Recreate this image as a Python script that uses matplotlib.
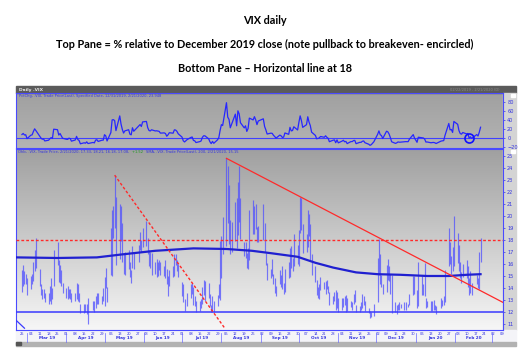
import matplotlib.pyplot as plt
import matplotlib.dates as mdates
from matplotlib.patches import Rectangle
from matplotlib.colors import LinearSegmentedColormap
from matplotlib.transforms import blended_transform_factory
import numpy as np
import pandas as pd

# ---- data (VIX daily) ----
holidays = ['2019-04-19', '2019-05-27', '2019-07-04', '2019-09-02', '2019-11-28',
            '2019-12-25', '2020-01-01', '2020-01-20', '2020-02-17']

close_feb19 = [14.85, 15.17, 14.70, 14.78]
close_mar19 = [13.57, 14.63, 14.74, 15.74, 16.59, 16.05, 14.33, 13.77, 13.41, 13.50, 12.88,
               13.10, 13.56, 13.91, 13.63, 16.48, 16.33, 14.68, 15.15, 14.43, 13.71]
close_apr19 = [13.40, 13.36, 13.74, 13.58, 12.82, 13.18, 14.28, 13.30, 13.02, 12.01, 12.32,
               12.18, 12.60, 12.09, 12.42, 12.28, 13.14, 13.25, 12.73, 13.11, 13.12]
close_may19 = [14.80, 14.42, 12.87, 15.44, 19.32, 19.40, 19.10, 16.04, 20.55, 18.06, 16.44,
               15.29, 15.96, 16.31, 14.95, 14.75, 16.92, 15.85, 17.50, 17.90, 17.30, 18.71]
close_jun19 = [18.86, 16.97, 16.09, 15.93, 16.30, 15.94, 15.99, 15.91, 15.82, 15.28, 15.35,
               15.15, 14.33, 14.75, 15.40, 15.26, 16.28, 16.21, 15.82, 15.08]
close_jul19 = [14.06, 12.93, 12.57, 13.28, 13.96, 14.09, 13.03, 12.93, 12.39, 12.68, 12.86,
               13.97, 14.45, 14.45, 13.53, 12.61, 12.07, 12.74, 12.16, 13.24, 13.94, 16.12]
close_aug19 = [17.87, 17.61, 24.59, 20.17, 19.49, 16.91, 17.97, 21.09, 17.52, 22.10, 21.18,
               18.47, 16.88, 17.50, 15.80, 16.68, 19.87, 19.32, 20.31, 19.35, 17.88, 18.98]
close_sep19 = [19.66, 17.33, 16.27, 15.00, 15.27, 15.20, 14.61, 14.22, 13.74, 14.67, 14.44,
               13.95, 14.05, 15.32, 14.91, 17.05, 15.96, 16.07, 17.22, 16.24]
close_oct19 = [18.56, 20.56, 19.12, 17.04, 17.86, 20.28, 18.64, 17.57, 15.58, 14.57, 13.54,
               13.68, 13.79, 14.25, 14.00, 14.46, 14.01, 13.71, 12.65, 13.11, 13.20, 12.33, 13.22]
close_nov19 = [12.30, 12.83, 13.10, 12.62, 12.73, 12.07, 12.69, 12.68, 13.00, 13.05, 12.05,
               12.46, 12.46, 12.78, 12.88, 12.34, 11.87, 11.54, 11.75, 12.62]
close_dec19 = [14.91, 15.96, 14.80, 14.52, 13.62, 15.86, 15.68, 14.99, 13.94, 12.63, 12.14,
               12.29, 12.58, 12.50, 12.51, 12.61, 12.67, 12.65, 13.43, 14.82, 13.78]
close_jan20 = [12.47, 14.02, 13.85, 13.79, 13.45, 12.54, 12.56, 12.32, 12.39, 12.42, 12.32,
               12.10, 12.85, 12.91, 12.98, 14.56, 18.23, 16.28, 16.39, 15.49, 18.84]
close_feb20 = [17.97, 16.05, 15.15, 14.96, 15.47, 15.04, 15.18, 13.74, 14.15, 13.68, 14.83,
               14.38, 15.56, 17.08]

high_feb19 = [15.5, 15.9, 15.4, 15.2]
high_mar19 = [14.8, 15.0, 15.2, 16.2, 17.2, 18.2, 15.6, 14.3, 13.9, 13.9, 13.6, 13.6, 14.2,
              14.8, 14.0, 17.2, 17.8, 16.3, 15.9, 15.5, 14.4]
high_apr19 = [14.0, 14.2, 13.9, 13.9, 13.6, 13.6, 14.4, 14.3, 13.6, 12.7, 12.7, 12.7, 12.7,
              13.2, 12.9, 12.9, 13.3, 13.6, 13.6, 13.3, 14.0]
high_may19 = [14.9, 15.7, 14.1, 19.0, 20.5, 20.8, 23.4, 21.6, 21.0, 20.8, 19.4, 16.8, 17.0,
              17.2, 16.2, 15.5, 17.5, 16.9, 17.6, 18.7, 18.0, 19.0]
high_jun19 = [19.6, 18.2, 17.2, 17.0, 16.9, 16.2, 16.4, 16.2, 16.3, 16.2, 15.8, 16.3, 15.6,
              15.0, 15.5, 15.8, 16.8, 16.8, 16.3, 16.0]
high_jul19 = [14.5, 14.3, 13.1, 13.6, 14.3, 14.4, 14.1, 13.3, 12.9, 12.9, 13.1, 14.1, 14.7,
              14.6, 14.4, 13.5, 12.6, 13.3, 12.9, 13.4, 14.3, 17.9]
high_aug19 = [18.3, 19.9, 24.8, 24.2, 22.6, 19.7, 19.5, 21.2, 21.5, 22.8, 24.2, 21.5, 17.8,
              17.8, 16.9, 17.3, 20.5, 21.3, 20.8, 21.0, 19.1, 19.2]
high_sep19 = [21.0, 19.4, 16.9, 16.1, 15.6, 16.4, 15.2, 14.8, 14.2, 15.5, 15.1, 15.8, 14.4,
              15.6, 16.2, 17.3, 17.5, 16.5, 18.5, 17.6]
high_oct19 = [18.8, 21.6, 21.5, 19.3, 18.5, 20.5, 20.2, 19.3, 16.8, 15.8, 14.7, 14.1, 14.3,
              14.9, 14.5, 14.6, 14.7, 14.2, 13.7, 13.3, 13.7, 13.8, 13.7]
high_nov19 = [13.2, 13.2, 13.2, 13.3, 13.4, 13.2, 12.9, 12.8, 13.5, 13.8, 12.6, 12.5, 12.8,
              13.5, 13.3, 12.9, 12.3, 12.1, 12.0, 12.7]
high_dec19 = [16.5, 18.1, 16.8, 15.1, 14.3, 15.9, 16.4, 15.8, 15.2, 15.1, 12.8, 12.6, 12.7,
              12.8, 12.7, 12.8, 12.8, 12.7, 13.5, 15.0, 15.0]
high_jan20 = [13.8, 16.2, 15.0, 14.3, 16.1, 13.2, 12.9, 12.9, 12.9, 13.0, 12.6, 12.5, 13.2,
              13.0, 13.3, 15.5, 19.0, 17.8, 16.7, 17.4, 19.99]
high_feb20 = [18.6, 17.6, 16.2, 15.3, 16.0, 16.3, 15.8, 14.8, 15.4, 14.4, 15.1, 14.8, 17.0, 18.2]

low_feb19 = [13.7, 14.2, 14.3, 14.3]
low_mar19 = [13.4, 13.9, 14.3, 14.6, 15.4, 15.7, 14.2, 13.4, 13.1, 13.2, 12.8, 12.7, 12.9,
             12.7, 13.1, 14.2, 15.9, 14.5, 14.4, 14.2, 13.6]
low_apr19 = [13.2, 13.1, 13.2, 13.1, 12.8, 12.9, 13.1, 12.9, 12.8, 11.9, 11.9, 12.0, 11.8,
             11.0, 12.2, 12.0, 12.3, 12.7, 12.7, 12.7, 12.9]
low_may19 = [12.5, 14.0, 12.8, 15.1, 15.0, 18.2, 19.0, 15.9, 16.4, 17.9, 16.2, 15.2, 15.1,
             15.6, 14.9, 14.4, 15.7, 15.6, 16.2, 17.2, 17.0, 17.4]
low_jun19 = [17.5, 16.8, 15.8, 15.7, 15.1, 15.2, 14.9, 15.0, 15.5, 15.1, 15.0, 14.8, 14.3,
             13.3, 14.2, 14.9, 15.0, 15.9, 15.4, 14.9]
low_jul19 = [13.3, 12.8, 12.1, 12.5, 13.2, 13.5, 12.6, 12.5, 12.0, 12.1, 12.3, 12.7, 13.4,
             12.9, 13.2, 12.5, 12.0, 12.0, 12.0, 12.5, 13.2, 13.0]
low_aug19 = [14.8, 16.8, 17.5, 19.4, 17.7, 16.8, 17.0, 17.9, 17.3, 18.4, 19.5, 18.1, 16.7,
             16.5, 15.7, 15.6, 16.3, 18.5, 18.5, 18.9, 17.8, 17.8]
low_sep19 = [18.0, 17.0, 15.9, 14.7, 14.8, 15.0, 14.3, 13.6, 13.3, 14.3, 14.1, 13.9, 13.5,
             13.7, 14.8, 14.9, 15.7, 15.4, 15.8, 16.0]
low_oct19 = [15.8, 18.6, 18.8, 16.9, 17.0, 17.4, 18.3, 16.3, 15.1, 14.5, 13.4, 13.2, 13.1,
             13.8, 13.9, 13.5, 13.9, 13.6, 12.6, 12.7, 12.9, 12.2, 12.3]
low_nov19 = [12.0, 12.2, 12.4, 12.6, 12.0, 12.1, 12.4, 12.2, 12.7, 12.8, 12.0, 12.0, 12.2,
             12.3, 12.6, 12.1, 11.9, 11.5, 11.6, 11.7]
low_dec19 = [12.8, 15.1, 14.3, 14.1, 13.5, 13.7, 14.7, 14.6, 13.5, 11.9, 12.0, 11.8, 12.2,
             12.2, 12.3, 12.2, 12.2, 12.4, 12.6, 13.4, 13.5]
low_jan20 = [12.3, 12.5, 13.4, 13.4, 13.3, 12.3, 12.4, 12.1, 12.1, 12.2, 12.2, 11.8, 12.3,
             12.5, 12.6, 12.8, 15.8, 16.0, 15.2, 15.4, 15.8]
low_feb20 = [16.1, 15.4, 14.8, 14.4, 14.9, 14.8, 14.1, 13.4, 13.6, 13.4, 14.3, 14.0, 13.9, 16.2]

ref_close = 13.78  # close of 12/31/2019

# 200-day SMA, read at points along the line
sma_dates = ['2019-02-20', '2019-03-25', '2019-04-25', '2019-05-15', '2019-06-10', '2019-07-10',
             '2019-08-05', '2019-08-25', '2019-09-09', '2019-09-30', '2019-10-14', '2019-10-28',
             '2019-11-15', '2019-12-02', '2019-12-20', '2020-01-10', '2020-01-27', '2020-02-10',
             '2020-02-21']
sma_values = [16.55, 16.5, 16.55, 16.8, 17.1, 17.3, 17.25, 17.1, 16.9, 16.6, 16.1, 15.7,
              15.3, 15.15, 15.1, 15.0, 15.0, 15.1, 15.15]

# drawn lines
dashed_trend_dates = ['2019-05-09', '2019-08-04']
dashed_trend_values = [23.4, 10.6]
solid_trend_dates = ['2019-08-05', '2020-03-10']
solid_trend_values = [24.8, 12.78]
old_line_dates = ['2019-02-20', '2019-02-27']
old_line_values = [11.35, 10.65]
resistance = 18
support = 12
circle_date = '2020-02-12'
circle_value = 0

month_names = ['Mar 19', 'Apr 19', 'May 19', 'Jun 19', 'Jul 19', 'Aug 19', 'Sep 19',
               'Oct 19', 'Nov 19', 'Dec 19', 'Jan 20', 'Feb 20']

close = np.array(close_feb19 + close_mar19 + close_apr19 + close_may19 + close_jun19 + close_jul19
                 + close_aug19 + close_sep19 + close_oct19 + close_nov19 + close_dec19
                 + close_jan20 + close_feb20)
high = np.array(high_feb19 + high_mar19 + high_apr19 + high_may19 + high_jun19 + high_jul19
                + high_aug19 + high_sep19 + high_oct19 + high_nov19 + high_dec19
                + high_jan20 + high_feb20)
low = np.array(low_feb19 + low_mar19 + low_apr19 + low_may19 + low_jun19 + low_jul19
               + low_aug19 + low_sep19 + low_oct19 + low_nov19 + low_dec19
               + low_jan20 + low_feb20)

days = pd.bdate_range('2019-02-25', '2020-02-21')
days = days[~days.isin(pd.to_datetime(holidays))]
pct = (close / ref_close - 1) * 100

# ---- figure, laid out in pixels ----
W, H = 529, 353
BLUE = '#3434e0'
LINE = '#2626ff'


def rect(x0, y0, x1, y1):
    return [x0 / W, 1 - y1 / H, (x1 - x0) / W, (y1 - y0) / H]


def grad(ax, x0, y0, x1, y1, c_top, c_bot):
    cmap = LinearSegmentedColormap.from_list('g', [c_top, c_bot])
    ax.imshow(np.linspace(0, 1, 200).reshape(-1, 1), cmap=cmap, aspect='auto',
              extent=[x0, x1, y1, y0], origin='upper', zorder=0)


fig = plt.figure(figsize=(W / 100, H / 100), dpi=100)
fig.patch.set_facecolor('white')

bg = fig.add_axes([0, 0, 1, 1])
bg.set_xlim(0, W)
bg.set_ylim(H, 0)
bg.axis('off')

grad(bg, 16, 93, 503, 148, '#a0a0a0', '#b4b4b4')
grad(bg, 16, 149, 503, 330, '#a0a0a0', '#f6f6f6')
bg.add_patch(Rectangle((16, 86), 500, 7, color='#5b5b5b', zorder=1))
bg.add_patch(Rectangle((503, 93), 13, 237, color='#d4d4d4', zorder=1))
bg.add_patch(Rectangle((16, 330), 500, 12, color='#f4f4f8', zorder=1))
bg.add_patch(Rectangle((16, 342), 500, 4, color='#b2b2b2', zorder=1))
bg.add_patch(Rectangle((510.5, 93.5), 4, 3.5, color='white', zorder=2))
bg.add_patch(Rectangle((510.5, 149.5), 4, 3.5, color='white', zorder=2))
bg.add_patch(Rectangle((16, 342), 5, 3, color='#555555', zorder=2))

title_font = dict(family=['Lato', 'DejaVu Sans'], weight='bold', fontsize=7.8, color='black',
                  ha='center', va='center')
bg.text(265, 20, 'VIX daily', **title_font)
bg.text(265, 44, 'Top Pane = % relative to December 2019 close '
        '(note pullback to breakeven- encircled)', **title_font)
bg.text(265, 68, 'Bottom Pane \u2013 Horizontal line at 18', **title_font)

small = dict(fontsize=2.6, va='center', zorder=5)
bg.text(19, 89.6, 'Daily .VIX', color='#e6e6e6', fontsize=3.2, weight='bold', va='center', zorder=5)
bg.text(500, 89.6, '02/22/2019 - 2/21/2020 (D)', color='#8c8c8c', ha='right', **small)
bg.text(19, 96.5, 'PctChg, .VIX, Trade Price(Last), Specified Date, 12/31/2019, 2/21/2020, 23.948',
        color=BLUE, **small)

# header of the lower pane: blue, green, blue pieces placed one after another
fig.canvas.draw()
renderer = fig.canvas.get_renderer()
x_at = 18
for piece, col in [('Ohlc, .VIX, Trade Price, 2/21/2020, 17.33, 18.21, 16.18, 17.08, ', BLUE),
                   ('+1.52 ', '#1a9a1a'),
                   ('SMA, .VIX, Trade Price(Last), 200, 2/21/2020, 15.15', BLUE)]:
    t = bg.text(x_at, 152, piece, color=col, **small)
    bb = t.get_window_extent(renderer)
    x_at += bb.width + 1.5

x_left = mdates.date2num(pd.Timestamp('2019-02-20 08:00'))
x_right = mdates.date2num(pd.Timestamp('2020-03-09 16:00'))


def style(ax):
    ax.patch.set_alpha(0)
    ax.set_xlim(x_left, x_right)
    for s in ax.spines.values():
        s.set_color('#4a4aff')
        s.set_linewidth(0.8)
    ax.yaxis.tick_right()
    ax.tick_params(axis='y', colors=BLUE, labelsize=3.6, length=1.5, width=0.5, pad=1.5)


# top pane: % relative to Dec 2019 close
ax1 = fig.add_axes(rect(16, 93, 503, 148))
style(ax1)
ax1.set_ylim(-22.2, 100)
ax1.set_yticks([-20, 0, 20, 40, 60, 80])
ax1.set_xticks([])
ax1.axhline(0, color='#4040ff', lw=0.8)
ax1.plot(days, pct, color=LINE, lw=0.9)
ax1.plot(pd.Timestamp(circle_date), circle_value, marker='o', ms=6.5, mfc='none',
         mec='#1010ff', mew=1.2)

# bottom pane: OHLC + SMA + lines
ax2 = fig.add_axes(rect(16, 149, 503, 330))
style(ax2)
ax2.set_ylim(10.5, 25.58)
ax2.set_yticks(range(11, 26))
ax2.vlines(days, low, high, color='#5050ff', alpha=0.75, lw=0.85, zorder=2)
ax2.plot(pd.to_datetime(sma_dates), sma_values, color='#2020d0', lw=1.6, zorder=3)
ax2.axhline(support, color='#3a3aff', lw=1.1, zorder=3)
ax2.axhline(resistance, color='#ff2a2a', lw=1.0, ls=(0, (2, 1.5)), zorder=3)
ax2.plot(pd.to_datetime(dashed_trend_dates), dashed_trend_values, color='#ff2a2a', lw=1.0,
         ls=(0, (2, 1.5)), zorder=4)
ax2.plot(pd.to_datetime(solid_trend_dates), solid_trend_values, color='#ff2a2a', lw=0.9, zorder=4)
ax2.plot(pd.to_datetime(old_line_dates), old_line_values, color='#3a3aff', lw=0.9, zorder=4)

ax2.xaxis.set_major_locator(mdates.WeekdayLocator(byweekday=mdates.MO))
ax2.xaxis.set_major_formatter(mdates.DateFormatter('%d'))
ax2.tick_params(axis='x', colors=BLUE, labelsize=2.6, length=0, pad=1.2)

# month labels and separators under the day numbers
trans = blended_transform_factory(ax2.transData, ax2.transAxes)
month_starts = pd.date_range('2019-03-01', '2020-03-01', freq='MS')
for i, name in enumerate(month_names):
    mid = month_starts[i] + (month_starts[i + 1] - month_starts[i]) / 2
    ax2.text(mdates.date2num(mid), -0.042, name, transform=trans, ha='center', va='center',
             fontsize=3.0, weight='bold', color=BLUE, clip_on=False)
for d in month_starts:
    ax2.plot([mdates.date2num(d)] * 2, [-0.017, -0.066], transform=trans, color='#6a6aff',
             lw=0.5, clip_on=False)

fig.savefig('out.png', dpi=100, facecolor='white')
